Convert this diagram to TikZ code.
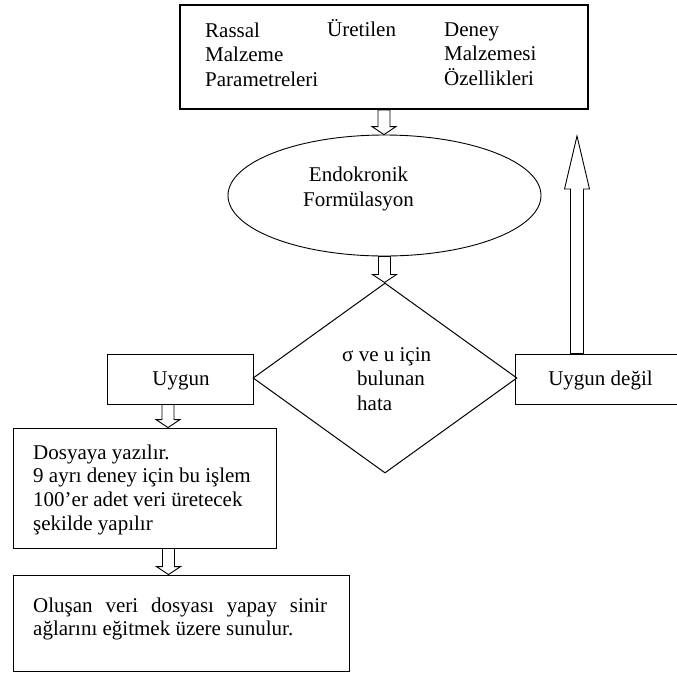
\documentclass[tikz,border=0pt]{standalone}
\usepackage{fontspec}
\setmainfont{Liberation Serif}
\usetikzlibrary{shapes.geometric,calc}
\begin{document}
\begin{tikzpicture}[x=1pt,y=-1pt,
  box/.style={draw, rectangle, line width=0.9pt, inner sep=0pt},
  lbl/.style={inner sep=0pt, anchor=base west},
  clbl/.style={inner sep=0pt, anchor=base},
  blockdown/.style={line width=0.9pt, line join=miter, to path={let \p1=(\tikztostart), \p2=(\tikztotarget) in
     (\x1-6pt,\y1) -- (\x1-6pt,\y2+8pt) -- (\x1-12pt,\y2+8pt) -- (\x1,\y2) -- (\x1+12pt,\y2+8pt) -- (\x1+6pt,\y2+8pt) -- (\x1+6pt,\y1) -- cycle}},
  blockup/.style={line width=0.9pt, line join=miter, to path={let \p1=(\tikztostart), \p2=(\tikztotarget) in
     (\x2-6.5pt,\y1) -- (\x2-6.5pt,\y2-53pt) -- (\x2-12.5pt,\y2-53pt) -- (\x2,\y2) -- (\x2+12.5pt,\y2-53pt) -- (\x2+6.5pt,\y2-53pt) -- (\x2+6.5pt,\y1) -- cycle}}
]
\clip (0,0) rectangle (677,673);
\fill[white] (0,0) rectangle (677,673);

% boxes
\node[box, line width=1.8pt, minimum width=408pt, minimum height=104pt] (top) at (384,57) {};
\node[draw, ellipse, line width=0.9pt, minimum width=313pt, minimum height=121pt, inner sep=0pt] (ell) at (384.5,195.5) {};
\node[draw, diamond, line width=1pt, minimum width=264pt, minimum height=190pt, inner sep=0pt] (dia) at (385,378) {};
\node[box, minimum width=146pt, minimum height=50pt] (uyg) at (180,379) {};
\node[box, minimum width=185pt, minimum height=50pt] (ud) at (607.5,379) {};
\node[box, minimum width=263pt, minimum height=120pt] (dos) at (144.5,488) {};
\node[box, minimum width=336pt, minimum height=96pt] (last) at (181,623) {};

% texts
\node[lbl, font=\fontsize{21}{24.4}\selectfont] (t1) at (205,37.3)
  {\begin{tabular}[t]{@{}l@{}}Rassal\\Malzeme\\Parametreleri\end{tabular}};
\node[lbl, font=\fontsize{21}{24.4}\selectfont] (t2) at (327,36.7) {Üretilen};
\node[lbl, font=\fontsize{21}{24.5}\selectfont] (t3) at (444,36)
  {\begin{tabular}[t]{@{}l@{}}Deney\\Malzemesi\\Özellikleri\end{tabular}};
\node[clbl, font=\fontsize{21}{25}\selectfont] (t4) at (358.5,181)
  {\begin{tabular}[t]{@{}c@{}}Endokronik\\Formülasyon\end{tabular}};
\node[lbl, font=\fontsize{21}{24.2}\selectfont] (t5) at (357,361.7)
  {\begin{tabular}[t]{@{}l@{}}\hspace*{-15pt}σ ve u için\\bulunan\\hata\end{tabular}};
\node[clbl, font=\fontsize{21}{24}\selectfont] (t6) at (181,385) {Uygun};
\node[clbl, font=\fontsize{21}{24}\selectfont] (t7) at (600.5,385) {Uygun değil};
\node[lbl, font=\fontsize{21}{23.7}\selectfont] (t8) at (33,459)
  {\begin{tabular}[t]{@{}l@{}}Dosyaya yazılır.\\9 ayrı deney için bu işlem\\100’er adet veri üretecek\\şekilde yapılır\end{tabular}};
\node[lbl, font=\fontsize{21}{23.3}\selectfont] (t9) at (33,612)
  {\parbox[t]{294pt}{\hbadness=10000 Oluşan veri dosyası yapay sinir\linebreak ağlarını eğitmek üzere sunulur.}};

% connectors
\draw[blockdown] (top.south) to (ell.north);
\draw[blockdown] (ell.south) to (dia.north);
\draw[blockdown] ([xshift=-12pt]uyg.south) to (dos.north);
\draw[blockdown] ([xshift=24pt]dos.south) to (last.north);
\coordinate (tip) at (577,136);
\draw[blockup] (ud.north) to (tip);
\end{tikzpicture}
\end{document}
